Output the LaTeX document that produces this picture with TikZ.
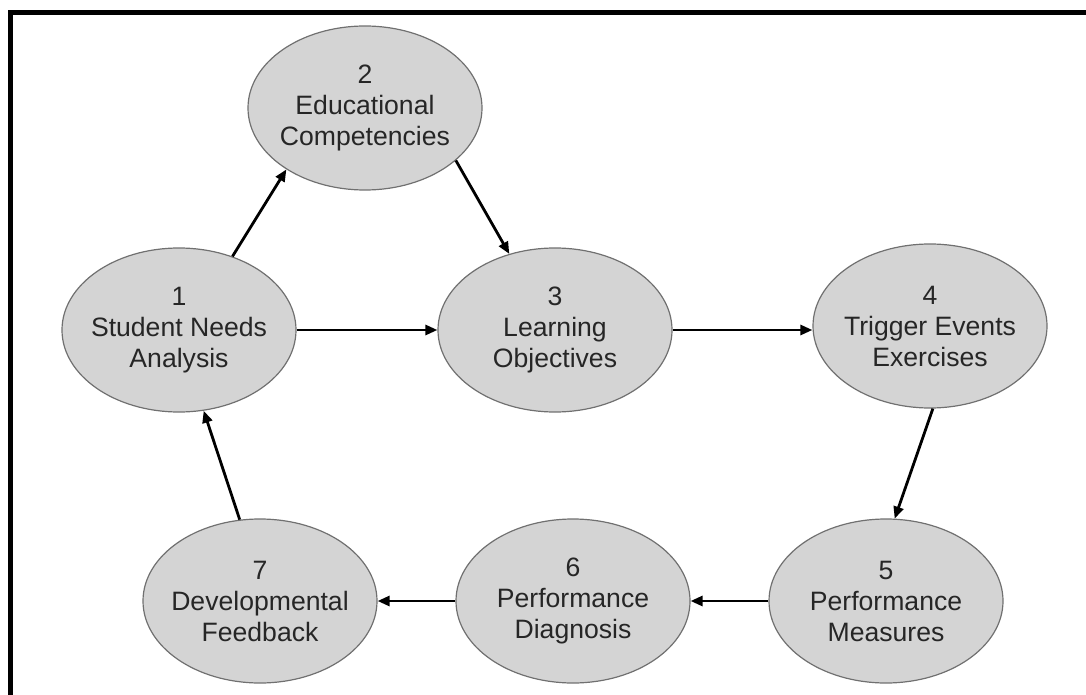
\documentclass[tikz,border=0pt]{standalone}
\usepackage{fontspec}
\setmainfont{Liberation Sans}
\usetikzlibrary{shapes.geometric,arrows.meta}
\definecolor{ellfill}{HTML}{D4D4D4}
\definecolor{elldraw}{HTML}{707070}
\definecolor{txt}{HTML}{262626}
\begin{document}
\begin{tikzpicture}[x=0.5pt,y=-0.5pt,
  stage/.style={ellipse, draw=elldraw, line width=0.6pt, fill=ellfill,
    minimum width=117pt, minimum height=82pt, inner xsep=-8pt, inner ysep=0pt,
    align=center, text=txt, font=\fontsize{13.3pt}{15.5pt}\selectfont},
  flow/.style={-{Triangle[length=6pt,width=5pt]}, line width=1.4pt, black}]
\useasboundingbox (0,0) rectangle (1086,695);
\clip (0,0) rectangle (1086,695);
% frame
\draw[line width=2.5pt] (10.5,720) -- (10.5,12.5) -- (1110,12.5);
% stages
\node[stage] (n2) at (365,108) {2\\Educational\\Competencies};
\node[stage] (n1) at (179,330) {1\\Student Needs\\Analysis};
\node[stage] (n3) at (555,330) {3\\Learning\\Objectives};
\node[stage] (n4) at (930,326) {4\\Trigger Events\\Exercises};
\node[stage] (n5) at (886,601) {5\\Performance\\Measures};
\node[stage] (n6) at (573,601) {6\\Performance\\Diagnosis};
\node[stage] (n7) at (260,601) {7\\Developmental\\Feedback};
% connectors
\draw[flow] (n1.54) -- (n2.218);
\draw[flow] (n2.-30) -- (n3.121);
\draw[flow] (n1.east) -- (n3.west);
\draw[flow] (n3.east) -- (n3.east -| n4.west);
\draw[flow] (n4.-88) -- (n5.84);
\draw[flow] (n5.west) -- (n6.east);
\draw[flow] (n6.west) -- (n7.east);
\draw[flow] (n7.104) -- (n1.-73);
\end{tikzpicture}
\end{document}
